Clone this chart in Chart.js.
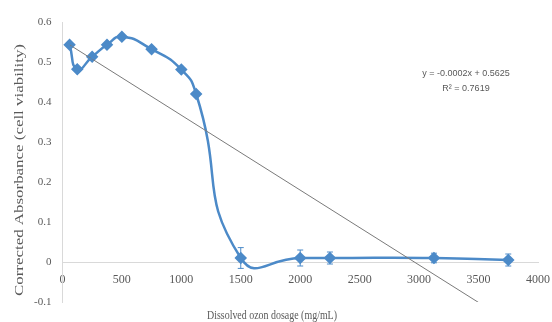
<!DOCTYPE html>
<html>
<head>
<meta charset="UTF-8">
<title>Ozone dosage vs cell viability</title>
<script src="https://cdn.jsdelivr.net/npm/chart.js"></script>
<style>
  html, body { margin: 0; padding: 0; background: #fff; }
  #wrap { width: 552px; height: 322px; }
</style>
</head>
<body>
<div id="wrap"><canvas id="myChart" width="552" height="322"></canvas></div>
<script>
// values
var dosage = [60, 125, 250, 375, 500, 750, 1000, 1125, 1500, 2000, 2250, 3125, 3750];
var absorb = [0.543, 0.482, 0.513, 0.543, 0.563, 0.532, 0.481, 0.42, 0.01, 0.01, 0.01, 0.01, 0.005];
var errBar = [0.005, 0.005, 0.005, 0.005, 0.005, 0.005, 0.005, 0.005, 0.026, 0.02, 0.015, 0.012, 0.015];
// ends of the linear trendline as drawn (clipped at the axis bottom)
var trendX = [60, 3750];
var trendY = [0.543, -0.148];
var xTicks = [0, 500, 1000, 1500, 2000, 2500, 3000, 3500, 4000];
var yTicks = [-0.1, 0, 0.1, 0.2, 0.3, 0.4, 0.5, 0.6];
var equation = ['y = -0.0002x + 0.5625', 'R² = 0.7619'];
var xTitle = 'Dissolved ozon dosage (mg/mL)';
var yTitle = 'Corrected Absorbance (cell viability)';

var blue = 'rgb(76,138,200)';
var grey = '#595959';
var serif = '"Liberation Serif", "DejaVu Serif", serif';
var pts = dosage.map(function (x, i) { return { x: x, y: absorb[i] }; });
var trend = trendX.map(function (x, i) { return { x: x, y: trendY[i] }; });

// text drawn stretched to the length it has in the picture
function stretchedText(ctx, txt, cx, cy, len, angle) {
  ctx.save();
  ctx.translate(cx, cy);
  ctx.rotate(angle);
  var w = ctx.measureText(txt).width;
  ctx.scale(len / w, 1);
  ctx.fillText(txt, 0, 0);
  ctx.restore();
}

// error bars, trendline equation, axis titles
var extras = {
  id: 'extras',
  afterDatasetsDraw: function (chart) {
    var ctx = chart.ctx, xs = chart.scales.x, ys = chart.scales.y;
    ctx.save();
    ctx.strokeStyle = blue;
    ctx.lineWidth = 1;
    for (var i = 0; i < dosage.length; i++) {
      var px = xs.getPixelForValue(dosage[i]);
      var top = ys.getPixelForValue(absorb[i] + errBar[i]);
      var bot = ys.getPixelForValue(absorb[i] - errBar[i]);
      ctx.beginPath();
      ctx.moveTo(px, top); ctx.lineTo(px, bot);
      ctx.moveTo(px - 3, top); ctx.lineTo(px + 3, top);
      ctx.moveTo(px - 3, bot); ctx.lineTo(px + 3, bot);
      ctx.stroke();
    }
    ctx.fillStyle = grey;
    ctx.textAlign = 'center';
    ctx.textBaseline = 'middle';
    ctx.font = '9px "Liberation Sans", sans-serif';
    ctx.fillText(equation[0], 466, 74);
    ctx.fillText(equation[1], 466, 89);
    ctx.font = '12px ' + serif;
    stretchedText(ctx, xTitle, 272, 316, 130, 0);
    ctx.font = '13px ' + serif;
    stretchedText(ctx, yTitle, 20, 170, 252, -Math.PI / 2);
    ctx.restore();
  }
};

new Chart(document.getElementById('myChart'), {
  type: 'scatter',
  data: {
    datasets: [{
      data: trend,
      showLine: true,
      borderColor: '#7a7a7a',
      borderWidth: 1,
      pointRadius: 0,
      tension: 0
    }, {
      data: pts,
      showLine: true,
      borderColor: blue,
      backgroundColor: blue,
      borderWidth: 2.5,
      pointStyle: 'rectRot',
      pointRadius: 4.5,
      pointHoverRadius: 4.5,
      tension: 0.55
    }]
  },
  options: {
    responsive: false,
    animation: false,
    layout: { padding: { top: 22, right: 0, left: 23, bottom: 20 } },
    plugins: {
      legend: { display: false },
      tooltip: { enabled: false }
    },
    scales: {
      x: {
        type: 'linear',
        position: { y: 0 },
        min: 0, max: 4000,
        afterBuildTicks: function (s) { s.ticks = xTicks.map(function (v) { return { value: v }; }); },
        afterFit: function (s) { s.paddingLeft = 0; s.paddingRight = 14; },
        grid: { display: false, drawTicks: false },
        border: { display: true, color: '#d9d9d9', width: 1 },
        ticks: {
          color: grey, font: { family: serif, size: 12 }, padding: 11, maxRotation: 0,
          callback: function (v) { return String(v); }
        }
      },
      y: {
        min: -0.1, max: 0.6,
        afterBuildTicks: function (s) { s.ticks = yTicks.map(function (v) { return { value: v }; }); },
        grid: { display: false, drawTicks: false },
        border: { display: true, color: '#d9d9d9', width: 1 },
        ticks: {
          color: grey, font: { family: serif, size: 11 }, padding: 11,
          callback: function (v) { return String(Math.round(v * 10) / 10); }
        }
      }
    }
  },
  plugins: [extras]
});
</script>
</body>
</html>
